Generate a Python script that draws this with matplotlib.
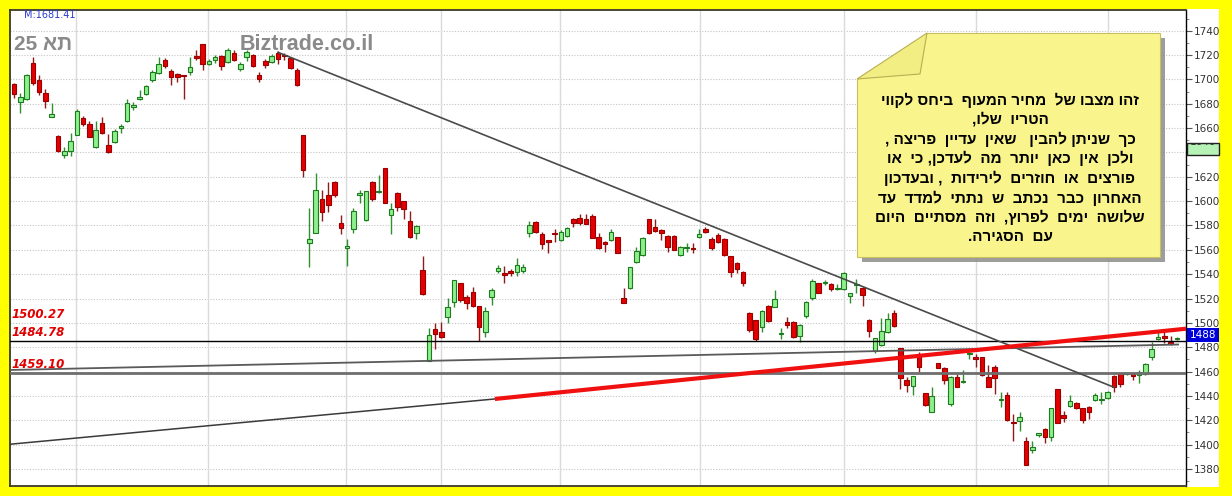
import numpy as np
import matplotlib
matplotlib.use("Agg")
import matplotlib.pyplot as plt
from matplotlib.patches import Polygon, Rectangle
from matplotlib.ticker import MultipleLocator

# daily candles (index 0 = first candle on the left)
opens = [1696.2, 1681.1, 1683.6, 1713.2, 1699.5, 1688.8, 1669.4, 1653.5, 1637.6, 1641.4,
         1654.6, 1668.3, 1663.3, 1644.5, 1663.9, 1645.8, 1648.8, 1659.8, 1665.8, 1677.6,
         1683.6, 1688.0, 1699.5, 1705.5, 1715.6, 1706.9, 1704.1, 1703.6, 1706.3, 1719.5,
         1728.8, 1712.4, 1715.9, 1719.2, 1714.0, 1721.9, 1708.5, 1718.1, 1720.0, 1703.9,
         1715.4, 1714.3, 1721.4, 1720.0, 1717.3, 1707.7, 1654.3, 1565.3, 1574.1, 1601.4,
         1604.7, 1615.4, 1582.3, 1561.7, 1576.8, 1605.3, 1584.5, 1615.4, 1607.5, 1626.9,
         1588.6, 1606.9, 1600.1, 1583.6, 1573.5, 1543.4, 1468.9, 1495.2, 1492.7, 1505.1,
         1517.4, 1532.4, 1521.5, 1525.6, 1513.8, 1492.7, 1520.9, 1542.3, 1540.6, 1542.3,
         1541.5, 1542.3, 1573.5, 1582.5, 1572.7, 1568.0, 1574.1, 1568.0, 1571.6, 1585.0,
         1586.4, 1585.0, 1587.7, 1570.8, 1566.7, 1568.0, 1570.2, 1520.1, 1528.3, 1550.2,
         1555.7, 1585.0, 1579.0, 1576.2, 1571.3, 1571.3, 1555.7, 1561.7, 1561.7, 1570.8,
         1576.8, 1568.6, 1572.1, 1568.6, 1554.9, 1549.4, 1542.0, 1507.8, 1502.3, 1496.3,
         1513.8, 1513.3, 1491.0, 1500.9, 1500.9, 1489.4, 1505.6, 1520.1, 1532.4, 1532.4,
         1531.9, 1527.5, 1527.5, 1522.0, 1530.8, 1528.9, 1502.3, 1477.1, 1481.8, 1492.7,
         1508.3, 1479.1, 1453.1, 1448.2, 1472.8, 1442.7, 1427.1, 1466.8, 1462.7, 1433.4,
         1455.3, 1451.2, 1474.2, 1472.2, 1471.7, 1455.8, 1463.5, 1436.6, 1440.8, 1418.6,
         1419.7, 1403.0, 1395.6, 1407.9, 1412.8, 1406.5, 1445.7, 1424.3, 1431.7, 1433.9,
         1429.8, 1431.2, 1436.6, 1436.6, 1438.0, 1456.6, 1458.6, 1458.0, 1458.0, 1456.9,
         1458.0, 1471.7, 1486.5, 1489.2, 1484.6, 1486.5]
highs = [1697.3, 1688.5, 1704.4, 1718.1, 1703.6, 1691.8, 1680.9, 1654.3, 1644.7, 1656.2,
         1675.4, 1669.9, 1665.5, 1666.1, 1668.8, 1655.1, 1659.0, 1663.3, 1683.6, 1681.7,
         1691.3, 1695.4, 1707.7, 1718.1, 1717.3, 1708.2, 1705.5, 1704.0, 1718.1, 1724.1,
         1729.1, 1716.5, 1720.0, 1720.0, 1725.5, 1724.1, 1714.5, 1724.1, 1720.6, 1706.3,
         1716.5, 1720.6, 1723.6, 1721.4, 1718.7, 1709.1, 1654.3, 1594.0, 1622.8, 1609.1,
         1615.7, 1616.5, 1588.6, 1568.6, 1594.6, 1609.1, 1608.3, 1616.5, 1621.4, 1626.9,
         1598.1, 1607.7, 1600.1, 1592.1, 1580.4, 1555.2, 1495.5, 1500.1, 1500.7, 1520.1,
         1535.2, 1533.0, 1522.9, 1529.7, 1513.8, 1513.3, 1528.3, 1547.5, 1546.7, 1543.9,
         1553.5, 1548.0, 1583.9, 1583.9, 1574.9, 1568.0, 1577.1, 1576.2, 1579.0, 1586.1,
         1589.4, 1589.4, 1589.4, 1574.1, 1567.5, 1576.8, 1570.8, 1528.3, 1545.6, 1562.5,
         1570.8, 1585.0, 1585.0, 1576.8, 1572.1, 1572.1, 1563.1, 1565.3, 1565.3, 1576.8,
         1579.0, 1570.8, 1573.5, 1569.4, 1554.9, 1550.2, 1542.8, 1509.1, 1502.3, 1510.5,
         1514.6, 1526.9, 1495.5, 1505.0, 1501.5, 1499.0, 1518.2, 1535.7, 1533.0, 1535.2,
         1532.4, 1531.9, 1541.7, 1524.8, 1535.7, 1529.1, 1502.9, 1487.2, 1504.2, 1508.3,
         1510.5, 1479.1, 1455.8, 1456.4, 1476.4, 1442.7, 1447.6, 1467.3, 1464.0, 1456.4,
         1458.0, 1461.3, 1477.7, 1474.4, 1471.7, 1465.4, 1465.4, 1443.5, 1443.5, 1425.2,
         1427.1, 1406.0, 1403.2, 1409.8, 1413.4, 1429.8, 1445.7, 1427.9, 1440.8, 1435.3,
         1429.8, 1431.7, 1442.7, 1443.5, 1444.3, 1457.2, 1459.1, 1459.9, 1459.1, 1461.3,
         1466.8, 1484.6, 1494.2, 1493.6, 1489.2, 1488.1]
lows = [1684.4, 1672.7, 1683.1, 1695.1, 1687.2, 1676.2, 1668.8, 1640.6, 1635.1, 1637.1,
        1654.0, 1661.7, 1652.4, 1643.9, 1654.9, 1639.3, 1648.0, 1655.7, 1665.3, 1674.8,
        1683.1, 1687.2, 1698.1, 1704.4, 1709.1, 1695.4, 1698.1, 1683.6, 1703.6, 1715.9,
        1707.7, 1711.5, 1713.2, 1707.7, 1713.2, 1715.4, 1707.2, 1715.1, 1710.4, 1697.6,
        1709.1, 1713.2, 1712.4, 1715.9, 1708.5, 1694.6, 1619.5, 1546.1, 1574.1, 1583.9,
        1591.3, 1603.1, 1572.7, 1546.7, 1574.1, 1598.1, 1583.9, 1600.3, 1606.9, 1598.1,
        1572.7, 1592.1, 1585.0, 1569.4, 1568.6, 1522.5, 1468.9, 1478.2, 1487.3, 1500.1,
        1512.7, 1517.4, 1511.1, 1513.3, 1485.1, 1488.1, 1514.6, 1540.6, 1532.4, 1538.5,
        1538.5, 1541.2, 1570.8, 1574.1, 1560.4, 1557.1, 1566.1, 1567.5, 1570.8, 1578.4,
        1580.4, 1580.9, 1569.4, 1560.6, 1558.4, 1567.5, 1557.1, 1516.0, 1527.8, 1548.8,
        1554.9, 1572.9, 1574.9, 1568.0, 1558.4, 1559.8, 1554.9, 1558.4, 1557.1, 1569.4,
        1573.5, 1559.8, 1565.3, 1554.9, 1537.4, 1540.6, 1530.2, 1492.7, 1485.3, 1492.7,
        1500.9, 1512.7, 1486.4, 1495.5, 1487.2, 1484.5, 1503.7, 1518.7, 1524.2, 1531.1,
        1526.4, 1527.0, 1527.0, 1516.0, 1524.2, 1513.8, 1488.1, 1474.9, 1480.9, 1491.9,
        1496.8, 1445.4, 1443.5, 1440.8, 1460.0, 1431.7, 1426.5, 1462.7, 1449.8, 1431.7,
        1447.1, 1450.4, 1470.0, 1464.0, 1456.4, 1447.1, 1441.6, 1431.2, 1419.7, 1403.2,
        1411.5, 1383.3, 1392.8, 1406.5, 1401.6, 1403.2, 1417.5, 1418.8, 1430.6, 1429.0,
        1417.5, 1420.8, 1436.1, 1433.4, 1437.2, 1443.5, 1447.6, 1457.2, 1453.1, 1450.4,
        1457.2, 1469.5, 1485.9, 1483.7, 1481.8, 1485.9]
closes = [1687.7, 1685.5, 1703.6, 1696.7, 1689.4, 1682.2, 1671.3, 1641.4, 1641.4, 1649.1,
          1673.8, 1663.1, 1652.9, 1658.4, 1655.7, 1640.6, 1657.9, 1662.0, 1680.9, 1678.7,
          1685.3, 1694.3, 1705.8, 1712.4, 1710.7, 1701.7, 1702.0, 1702.5, 1710.4, 1717.6,
          1712.6, 1715.1, 1718.7, 1711.3, 1724.1, 1715.9, 1712.6, 1722.8, 1711.3, 1700.3,
          1711.5, 1719.2, 1716.7, 1719.5, 1709.1, 1695.1, 1625.5, 1568.6, 1609.1, 1591.0,
          1596.5, 1605.0, 1577.6, 1563.1, 1592.1, 1606.9, 1608.3, 1602.0, 1608.6, 1598.7,
          1593.2, 1595.4, 1593.8, 1570.8, 1579.5, 1523.7, 1489.7, 1490.5, 1488.1, 1513.3,
          1535.2, 1518.7, 1516.6, 1513.8, 1496.8, 1510.0, 1527.0, 1545.0, 1539.0, 1541.2,
          1547.5, 1545.6, 1580.4, 1574.9, 1564.5, 1566.4, 1573.2, 1574.9, 1578.2, 1582.3,
          1581.7, 1581.4, 1569.9, 1561.7, 1564.5, 1574.3, 1557.1, 1516.5, 1545.6, 1559.3,
          1569.4, 1573.5, 1575.7, 1574.0, 1562.5, 1559.8, 1562.0, 1562.5, 1560.3, 1572.9,
          1574.9, 1561.2, 1566.6, 1555.7, 1542.0, 1543.9, 1532.4, 1494.1, 1486.4, 1510.0,
          1501.8, 1519.3, 1491.5, 1498.2, 1488.1, 1498.2, 1517.4, 1534.6, 1524.8, 1533.8,
          1527.5, 1528.3, 1540.6, 1524.2, 1531.9, 1522.8, 1493.5, 1487.2, 1493.3, 1502.9,
          1497.4, 1454.4, 1449.0, 1456.4, 1464.0, 1432.5, 1439.9, 1463.2, 1453.1, 1455.8,
          1447.6, 1452.3, 1475.0, 1470.0, 1457.2, 1447.6, 1454.4, 1437.5, 1420.2, 1417.5,
          1422.4, 1383.3, 1397.8, 1409.3, 1406.0, 1429.8, 1418.0, 1421.6, 1436.1, 1429.8,
          1420.2, 1427.1, 1440.8, 1437.5, 1442.9, 1447.1, 1449.8, 1459.1, 1456.4, 1459.9,
          1466.2, 1478.3, 1488.1, 1487.3, 1482.6, 1487.8]

month_lines = [9.9, 30.9, 52.8, 67.9, 86.9, 109.1, 132.0, 153.0, 174.0]
price_ticks = list(range(1380, 1741, 20))
level_values = [1500.27, 1484.78, 1459.10]
last_price = 1488
ma_label = "M:1681.41"

# trend lines as (index, price) end points
down_trend = [(42.0, 1722.2), (175.0, 1447.1)]
up_trend_old = [(-0.64, 1400.3), (76.5, 1437.5)]
up_trend_red = [(76.5, 1437.5), (186.45, 1495.2)]
flat_trend = [(-0.64, 1461.3), (185.2, 1482.2)]

note_lines = [
    "זהו מצבו של  מחיר המעוף  ביחס לקווי",
    "הטריו  שלו,",
    "כך  שניתן להבין   שאין  עדיין  פריצה ,",
    "ולכן  אין  כאן  יותר  מה  לעדכן, כי  או",
    "פורצים  או  חוזרים  לירידות  , ובעדכון",
    "האחרון  כבר  נכתב  ש  נתתי  למדד  עד",
    "שלושה  ימים  לפרוץ,  וזה  מסתיים  היום",
    "עם  הסגירה.",
]
watermark_heb = "תא"
watermark_num = "25"
watermark_site = "Biztrade.co.il"


def visual(s):
    # matplotlib has no bidi: hand it the glyphs in display order
    return s[::-1]


W, H = 1232, 496
fig = plt.figure(figsize=(W / 100, H / 100), dpi=100, facecolor="#ffff00")


def fx(px):
    return px / W


def fy(py):
    return 1 - py / H


# white panel that also holds the price scale
fig.patches.append(Rectangle((fx(10), fy(487)), fx(1219) - fx(10), fy(9) - fy(487),
                             transform=fig.transFigure, facecolor="white",
                             edgecolor="none", zorder=-1))

ax = fig.add_axes([fx(10), fy(486), fx(1186) - fx(10), fy(10) - fy(486)])
ax.set_xlim(-0.64, 186.45)
ax.set_ylim(1366.0, 1757.0)
for s in ["left", "top", "bottom"]:
    ax.spines[s].set_color("#3a3a20")
    ax.spines[s].set_linewidth(1.3)
ax.spines["right"].set_color("black")
ax.spines["right"].set_linewidth(1.0)

ax.yaxis.tick_right()
ax.set_yticks(price_ticks)
ax.yaxis.set_minor_locator(MultipleLocator(10))
ax.tick_params(axis="y", which="major", length=4, width=0.8, color="#555555",
               labelsize=7.5, labelcolor="#333333", pad=1.5)
ax.tick_params(axis="y", which="minor", length=2.5, width=0.6, color="#777777")
ax.set_xticks([])

for p in price_ticks:
    ax.axhline(p, color="#c4c4c4", lw=0.8, ls=(0, (1, 1.5)), zorder=0)
for m in month_lines:
    ax.axvline(m, color="#dadada", lw=1.0, zorder=0)

o = np.array(opens)
h = np.array(highs)
l = np.array(lows)
c = np.array(closes)
x = np.arange(len(o))
up = c >= o
body_lo = np.minimum(o, c)
body_h = np.maximum(np.abs(c - o), 0.9)

ax.vlines(x[up], l[up], h[up], color="#2f8f2f", lw=1.0, zorder=3)
ax.vlines(x[~up], l[~up], h[~up], color="#8e1b1b", lw=1.0, zorder=3)
ax.bar(x[up], body_h[up], bottom=body_lo[up], width=0.72, color="#8df08d",
       edgecolor="#1e7a1e", lw=0.8, zorder=4)
ax.bar(x[~up], body_h[~up], bottom=body_lo[~up], width=0.72, color="#e20000",
       edgecolor="#9a0000", lw=0.8, zorder=4)

# support / resistance levels
ax.axhline(level_values[1], color="black", lw=1.0, zorder=5)
ax.axhline(level_values[2], color="#6e6e6e", lw=2.0, zorder=5)

# trend lines
ax.plot(*zip(*down_trend), color="#4a4a4a", lw=1.2, zorder=5)
ax.plot(*zip(*up_trend_old), color="#3a3a3a", lw=1.1, zorder=5)
ax.plot(*zip(*flat_trend), color="#5a5a5a", lw=1.3, zorder=5)
ax.plot(*zip(*up_trend_red), color="#f01010", lw=3.0, zorder=6,
        solid_capstyle="butt")

# level labels on the left
for val, py in zip(level_values, [314, 333, 364]):
    fig.text(fx(12), fy(py), f"{val:.2f}", color="#e00000", fontsize=8.5,
             fontweight="bold", fontstyle="italic", va="center", ha="left",
             family="DejaVu Sans")

# last price box on the scale
fig.patches.append(Rectangle((fx(1187), fy(342)), fx(1219) - fx(1187), fy(328) - fy(342),
                             transform=fig.transFigure, facecolor="#0000dd",
                             edgecolor="none", zorder=5))
fig.text(fx(1203), fy(335), str(last_price), color="white", fontsize=7.5,
         ha="center", va="center", zorder=6)

# half hidden moving average box
ma_box = Rectangle((fx(1187), fy(155)), fx(1219) - fx(1187), fy(143) - fy(155),
                   transform=fig.transFigure, facecolor="#b6f2b6",
                   edgecolor="#202020", lw=1.0, zorder=5)
fig.patches.append(ma_box)
t = fig.text(fx(1203), fy(142), "1640", color="#333333", fontsize=7.5,
             ha="center", va="center", zorder=6)
t.set_clip_path(ma_box)

fig.text(fx(24), fy(15), ma_label, color="#2a3ad0", fontsize=7,
         va="center", ha="left")
fig.text(fx(14), fy(45), watermark_num + " " + visual(watermark_heb),
         color="#8a8a8a", fontsize=15, fontweight="bold", va="center", ha="left",
         family=["Liberation Sans", "DejaVu Sans"])
fig.text(fx(240), fy(45), watermark_site, color="#8a8a8a", fontsize=15.5,
         fontweight="bold", va="center", ha="left",
         family=["Liberation Sans", "DejaVu Sans"])

# sticky note with folded corner
note = [(927, 33), (1160, 33), (1160, 257), (857, 257), (857, 79)]
shadow = [(px + 5, py + 5) for px, py in note]
fig.patches.append(Polygon([(fx(a), fy(b)) for a, b in shadow], closed=True,
                           transform=fig.transFigure, facecolor="#8c8c8c",
                           edgecolor="none", alpha=0.85, zorder=7))
fig.patches.append(Polygon([(fx(a), fy(b)) for a, b in note], closed=True,
                           transform=fig.transFigure, facecolor="#f9f58c",
                           edgecolor="#c8c060", lw=0.8, zorder=8))
flap = [(927, 33), (857, 79), (920, 74)]
fig.patches.append(Polygon([(fx(a), fy(b)) for a, b in flap], closed=True,
                           transform=fig.transFigure, facecolor="#f2ee84",
                           edgecolor="#b8b050", lw=0.8, zorder=9))

for i, line in enumerate(note_lines):
    fig.text(fx(1010), fy(100 + i * 19.6), visual(line), color="black",
             fontsize=11, fontweight="bold", ha="center", va="center",
             family=["Liberation Sans", "DejaVu Sans"], zorder=10)

fig.savefig("out.png", dpi=100, facecolor=fig.get_facecolor())
